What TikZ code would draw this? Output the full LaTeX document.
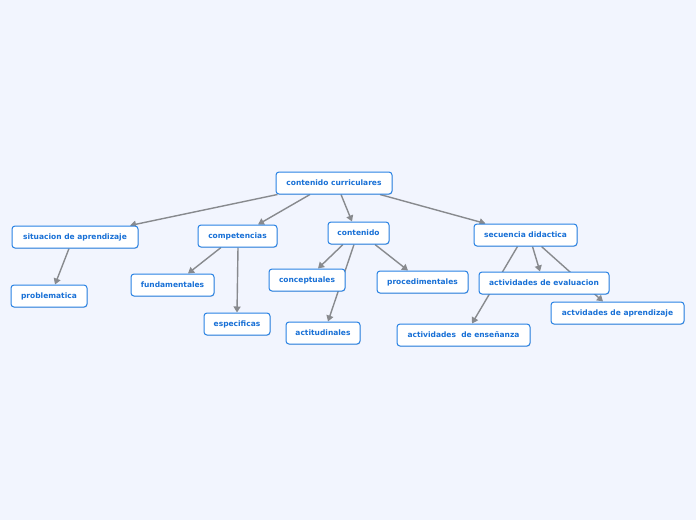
\documentclass[tikz,border=0pt]{standalone}
\usepackage{fontspec}
\setsansfont{DejaVu Sans}
\usetikzlibrary{arrows.meta,shadows}
\definecolor{pagebg}{RGB}{242,245,254}
\definecolor{boxline}{RGB}{40,130,228}
\definecolor{boxtext}{RGB}{24,112,214}
\definecolor{linkgray}{RGB}{136,138,142}
\pgfdeclarelayer{background}
\pgfsetlayers{background,main}
\tikzset{
  topic/.style={draw=boxline, line width=1pt, fill=white, rounded corners=3pt,
    text=boxtext, font=\sffamily\bfseries\fontsize{7.5}{9}\selectfont,
    inner sep=0pt, minimum height=22pt,
    drop shadow={shadow xshift=0.5pt, shadow yshift=-0.8pt, opacity=0.25}},
  link/.style={draw=linkgray, line width=1.4pt, -{Triangle[length=6pt,width=7pt]}}
}
\begin{document}
\begin{tikzpicture}[x=1pt,y=-1pt]
    \useasboundingbox (0,0) rectangle (696,520);

    % central topic
    \node[topic, minimum width=116pt] (cc) at (334,183) {contenido curriculares};

    % main branches
    \node[topic, minimum width=126pt] (sit) at (75,237) {situacion de aprendizaje};
    \node[topic, minimum width=79pt] (comp) at (237.5,236) {competencias};
    \node[topic, minimum width=61pt] (cont) at (358.5,233) {contenido};
    \node[topic, minimum width=103pt] (sec) at (525.5,235) {secuencia didactica};

    % sub topics
    \node[topic, minimum width=76pt] (prob) at (49,296) {problematica};
    \node[topic, minimum width=83pt] (fund) at (172.5,285) {fundamentales};
    \node[topic, minimum width=66pt] (esp) at (237,324) {especificas};
    \node[topic, minimum width=76pt] (conc) at (307,280) {conceptuales};
    \node[topic, minimum width=74pt] (acti) at (323,333) {actitudinales};
    \node[topic, minimum width=91pt] (proc) at (422.5,282) {procedimentales};
    \node[topic, minimum width=130pt] (eval) at (544,283) {actividades de evaluacion};
    \node[topic, minimum width=133pt] (apr) at (617.5,313) {actvidades de aprendizaje};
    \node[topic, minimum width=133pt] (ens) at (463.5,335) {actividades\ \ de enseñanza};

    % page and connectors behind the boxes
    \begin{pgfonlayer}{background}
    \fill[pagebg] (0,0) rectangle (696,520);

    \draw[link] ([xshift=2pt]cc.south west) -- ([xshift=55pt]sit.north);
    \draw[link] ([xshift=-24pt]cc.south) -- ([xshift=20.5pt]comp.north);
    \draw[link] ([xshift=7pt]cc.south) -- ([xshift=-6.5pt]cont.north);
    \draw[link] ([xshift=46pt]cc.south) -- ([xshift=-40pt]sec.north);

    \draw[link] ([xshift=-6pt]sit.south) -- ([xshift=6pt]prob.north);
    \draw[link] ([xshift=-16.5pt]comp.south) -- ([xshift=15.5pt]fund.north);
    \draw[link] ([xshift=0.5pt]comp.south) -- (esp.north);

    \draw[link] ([xshift=-15.5pt]cont.south) -- ([xshift=11pt]conc.north);
    \draw[link] ([xshift=-4.5pt]cont.south) -- ([xshift=5pt]acti.north);
    \draw[link] ([xshift=16.5pt]cont.south) -- ([xshift=-14.5pt]proc.north);

    \draw[link] ([xshift=7pt]sec.south) -- ([xshift=-4pt]eval.north);
    \draw[link] ([xshift=-8pt]sec.south) -- ([xshift=8.5pt]ens.north);
    \draw[link] ([xshift=16pt]sec.south) -- ([xshift=-14.5pt]apr.north);
    \end{pgfonlayer}
\end{tikzpicture}
\end{document}
